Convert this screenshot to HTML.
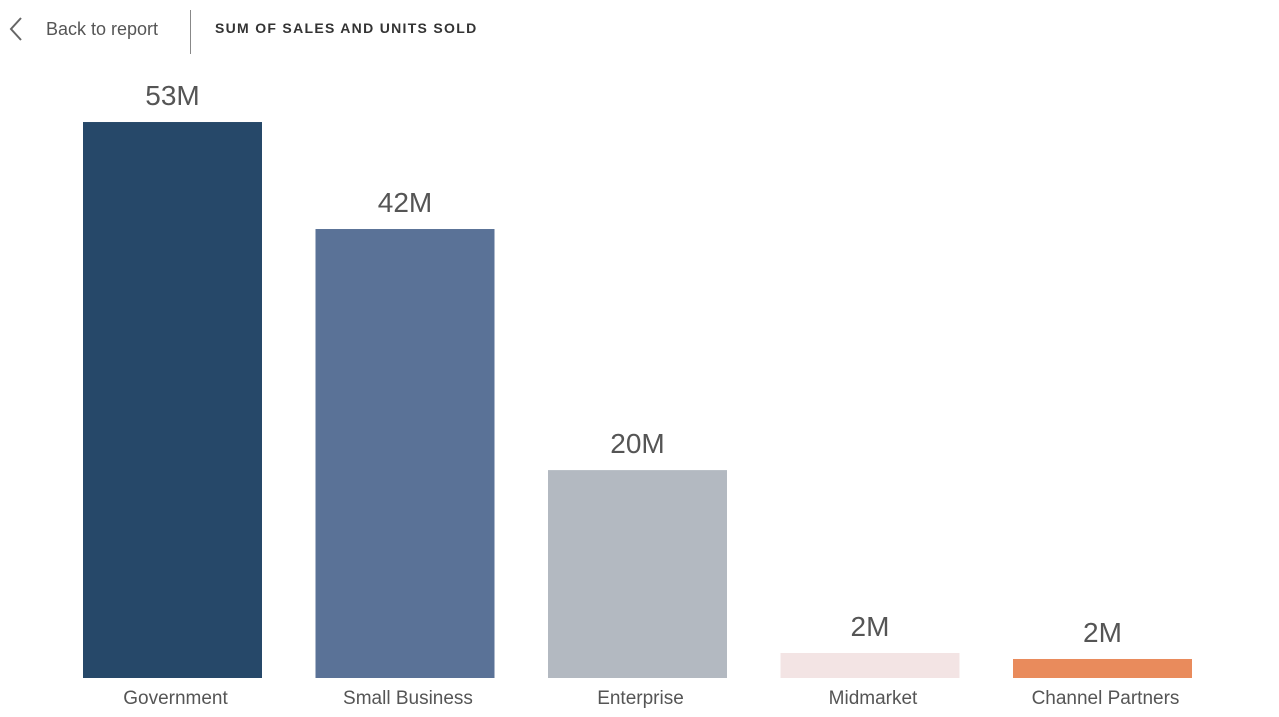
<!DOCTYPE html>
<html><head><meta charset="utf-8">
<style>
html,body{margin:0;padding:0;background:#fff;width:1279px;height:717px;overflow:hidden;font-family:"Liberation Sans","DejaVu Sans",sans-serif;}
#hdr{position:absolute;left:0;top:0;width:1279px;height:60px;}
#back{position:absolute;left:8px;top:14px;height:30px;display:flex;align-items:center;cursor:pointer;}
#back span{margin-left:22px;font-size:18px;color:#555;}
#div{position:absolute;left:190px;top:10px;width:1px;height:44px;background:#888;}
#title{position:absolute;left:215px;top:20px;font-size:14px;font-weight:bold;letter-spacing:1.3px;color:#333;}
svg{position:absolute;left:0;top:0;}
</style></head><body>
<div id="hdr">
 <div id="back">
  <svg width="16" height="26" style="position:static"><polyline points="13,2 3,13 13,24" fill="none" stroke="#666" stroke-width="2"/></svg>
  <span>Back to report</span>
 </div>
 <div id="div"></div>
 <div id="title">SUM OF SALES AND UNITS SOLD</div>
</div>
<svg id="chart" width="1279" height="717" style="top:0;left:0;pointer-events:none"></svg>
<script>
const categories=["Government","Small Business","Enterprise","Midmarket","Channel Partners"];
const values=[52.95,42.76,19.8,2.38,1.81];
const valueLabels=["53M","42M","20M","2M","2M"];
const colors=["#264869","#5a7297","#b3b9c1","#f3e4e4","#e98b5c"];
const svg=document.getElementById('chart');
const NS="http://www.w3.org/2000/svg";
const baseY=678, pxPerUnit=10.5, x0=83, step=232.5, bw=179;
function y(v){return baseY-v*pxPerUnit;}
function x(i){return x0+i*step;}
categories.forEach((c,i)=>{
 const r=document.createElementNS(NS,'rect');
 
 
 r.setAttribute('x',x(i));r.setAttribute('width',bw);
 r.setAttribute('y',y(values[i]));r.setAttribute('height',baseY-y(values[i]));
 r.setAttribute('fill',colors[i]);svg.appendChild(r);
 const t=document.createElementNS(NS,'text');
 
 
 t.setAttribute('x',x(i)+bw/2);t.setAttribute('y',y(values[i])-17);
 t.setAttribute('text-anchor','middle');t.setAttribute('font-size','28');t.setAttribute('fill','#555');
 t.textContent=valueLabels[i];svg.appendChild(t);
 const l=document.createElementNS(NS,'text');
 
 
 l.setAttribute('x',x(i)+bw/2+3);l.setAttribute('y',704);
 l.setAttribute('text-anchor','middle');l.setAttribute('font-size','19');l.setAttribute('fill','#555');
 l.textContent=c;svg.appendChild(l);
});
</script>
</body></html>
